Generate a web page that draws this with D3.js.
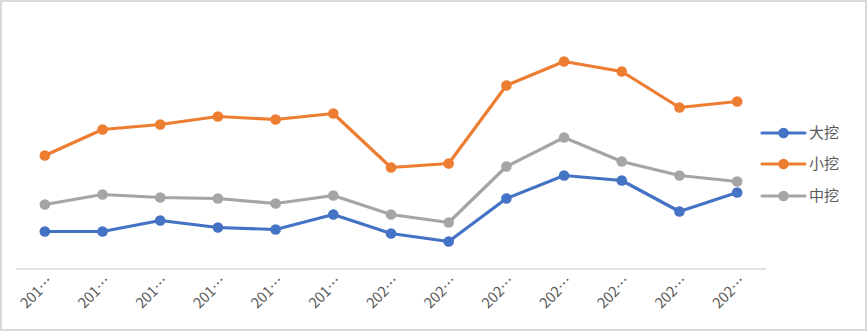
<!DOCTYPE html>
<html><head><meta charset="utf-8">
<script src="https://cdn.jsdelivr.net/npm/d3@7"></script>
<style>body{margin:0;background:#fff}svg{display:block}</style>
</head><body>
<script>
const categories = ["201…","201…","201…","201…","201…","201…","202…","202…","202…","202…","202…","202…","202…"];
const seriesNames = ["大挖","小挖","中挖"];
const daWa  = [38, 38, 49, 42, 40, 55, 36, 28, 71, 94, 89, 58, 77];
const xiaoWa = [114, 140, 145, 153, 150, 156, 102, 106, 184, 208, 198, 162, 168];
const zhongWa = [65, 75, 72, 71, 66, 74, 55, 47, 103, 132, 108, 94, 88];
const colors = ["#4472C4","#ED7D31","#A5A5A5"];
const yMax = 250;

const W = 867, H = 331;
const svg = d3.select("body").append("svg").attr("width", W).attr("height", H);
svg.append("rect").attr("x",1).attr("y",1).attr("width",W-2).attr("height",H-2)
  .attr("fill","#fff").attr("stroke","#d9d9d9").attr("stroke-width",2);

const x = d3.scalePoint().domain(d3.range(categories.length)).range([16, 766]).padding(0.5);
const y = d3.scaleLinear().domain([0, yMax]).range([269.5, 19.5]);

svg.append("line").attr("x1",16).attr("x2",766).attr("y1",269).attr("y2",269)
  .attr("stroke","#d9d9d9").attr("stroke-width",1.5);

svg.selectAll("text.xl").data(categories).enter().append("text")
  .attr("class","xl")
  .attr("transform",(d,i)=>`translate(${x(i)+9},${282}) rotate(-45)`)
  .attr("text-anchor","end")
  .attr("font-family","'Noto Sans CJK SC', 'Noto Sans', sans-serif")
  .attr("font-size",14.5).attr("fill","#595959").text(d=>d);

const data = [daWa, xiaoWa, zhongWa];
const line = d3.line().x((d,i)=>x(i)).y(d=>y(d));
data.forEach((vals, k) => {
  const g = svg.append("g");
  g.append("path").datum(vals).attr("d", line).attr("fill","none")
    .attr("stroke", colors[k]).attr("stroke-width", 3.2).attr("stroke-linejoin","round");
  g.selectAll("circle").data(vals).enter().append("circle")
    .attr("cx",(d,i)=>x(i)).attr("cy",d=>y(d)).attr("r",5.3).attr("fill",colors[k]);
});

const legY = [133, 164, 196];
seriesNames.forEach((name, k) => {
  const g = svg.append("g").attr("transform", `translate(0,${legY[k]})`);
  g.append("line").attr("x1",762).attr("x2",805).attr("y1",0).attr("y2",0)
    .attr("stroke",colors[k]).attr("stroke-width",3.2).attr("stroke-linecap","round");
  g.append("circle").attr("cx",783.5).attr("cy",0).attr("r",5.3).attr("fill",colors[k]);
  g.append("text").attr("x",809).attr("y",0).attr("dy","0.36em")
    .attr("font-family","'Noto Sans CJK SC', sans-serif")
    .attr("font-size",15).attr("fill","#595959").text(name);
});
</script>
</body></html>
